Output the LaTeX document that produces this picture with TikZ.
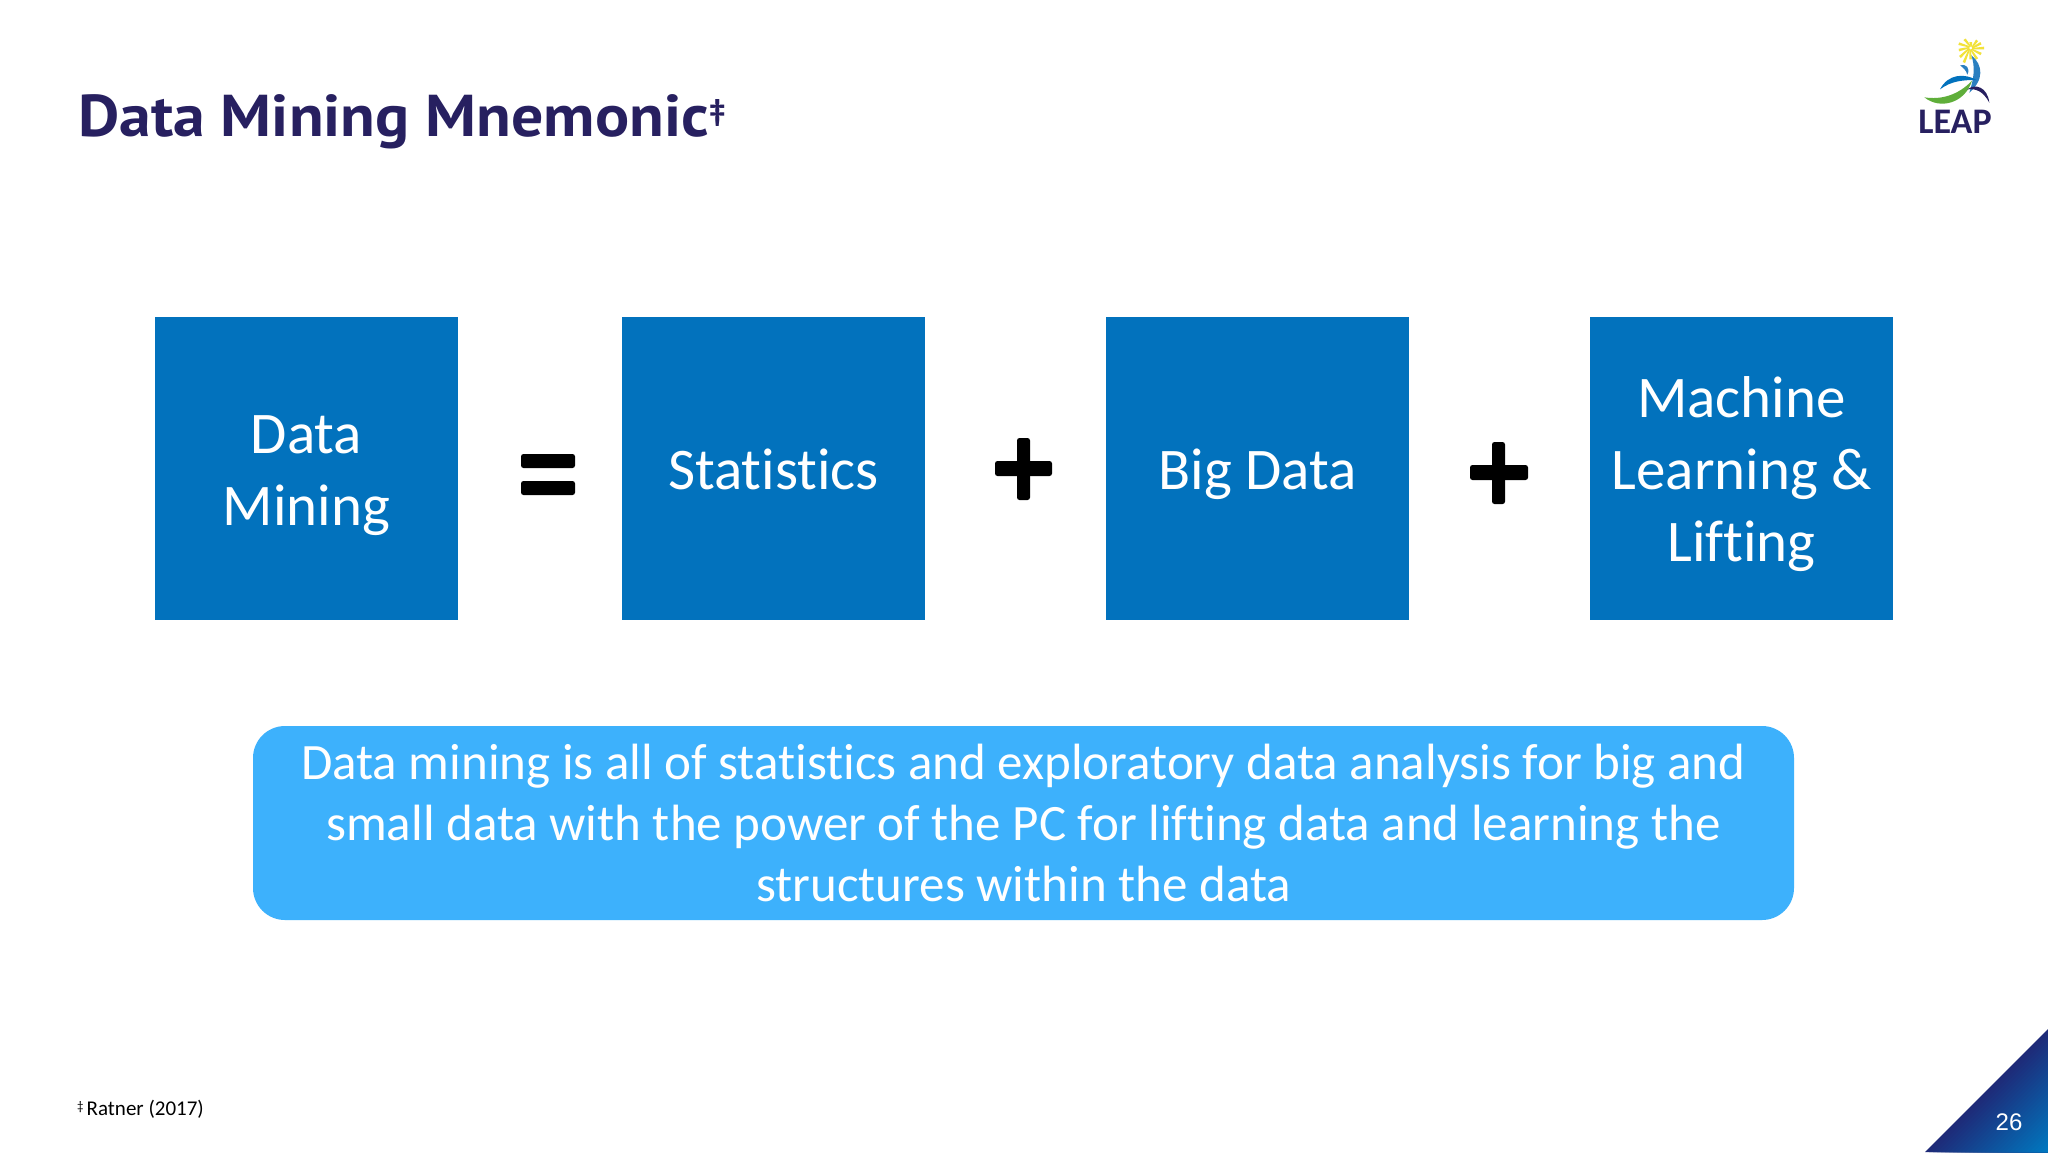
\documentclass[tikz,border=0pt]{standalone}
\usepackage{fontspec}
\setmainfont[RawFeature={-liga;-clig;-dlig}]{Carlito}
\newfontfamily\titlefont[FakeStretch=1.08]{PT Sans}
\newfontfamily\numfont{Liberation Sans}
\definecolor{boxblue}{HTML}{0272BD}
\definecolor{panelblue}{HTML}{3DB1FC}
\definecolor{titlenavy}{HTML}{272060}
\definecolor{cornernavy}{HTML}{1E2A78}
\definecolor{cornerblue}{HTML}{0078C0}
\definecolor{logoblue}{HTML}{2A7FC0}
\definecolor{logogreen}{HTML}{5FAE3A}
\definecolor{logoyellow}{HTML}{F2E23A}
\newcommand{\tstrut}{\rule{0pt}{57.5pt}}
\newcommand{\bstrut}{\rule[-15pt]{0pt}{15pt}}
\tikzset{
  bluebox/.style={fill=boxblue,draw=none,minimum width=303pt,minimum height=303pt,inner sep=0pt,anchor=center,text=white,align=center,font=\fontsize{59}{72}\selectfont},
  symbolbar/.style={fill=black,draw=none,rounded corners=2.5pt},
  panel/.style={fill=panelblue,draw=none,rounded corners=32pt,minimum width=1541pt,minimum height=194pt,inner sep=0pt,text=white,align=center,font=\fontsize{51}{61.4}\selectfont}
}
\begin{document}
\begin{tikzpicture}[x=1pt,y=-1pt]
\useasboundingbox (0,0) rectangle (2048,1152);
\fill[white] (0,0) rectangle (2048,1152);
% title
\node[anchor=base west,inner sep=0pt,text=titlenavy,font=\titlefont\bfseries\fontsize{59}{70}\selectfont] (title) at (78,136) {Data Mining Mnemonic\raisebox{16pt}{\fontsize{30}{30}\selectfont ‡}};
% boxes
\node[bluebox] (dm) at (306.5,468.5) {\tstrut Data\\Mining\bstrut};
\node[bluebox] (st) at (773.5,468.5) {\tstrut Statistics\bstrut};
\node[bluebox] (bd) at (1257.5,468.5) {\tstrut Big Data\bstrut};
\node[bluebox] (ml) at (1741.5,468.5) {\tstrut Machine\\Learning \&\\Lifting\bstrut};
% symbols
\fill[symbolbar] (521,454) rectangle (575,468);
\fill[symbolbar] (521,481) rectangle (575,495);
\fill[symbolbar] (995,461) rectangle (1052,476);
\fill[symbolbar] (1017,438) rectangle (1030,500);
\fill[symbolbar] (1470,465) rectangle (1528,480);
\fill[symbolbar] (1492,442) rectangle (1505,504);
% panel
\node[panel] (note) at (1023.5,823) {Data mining is all of statistics and exploratory data analysis for big and\\small data with the power of the PC for lifting data and learning the\\structures within the data};
% footnote
\node[anchor=base west,inner sep=0pt,font=\fontsize{21}{25}\selectfont] (foot) at (77,1115) {\raisebox{5pt}{\fontsize{13}{13}\selectfont ‡}\kern3pt Ratner (2017)};
% corner triangle: bands parallel to the slanted edge
\foreach \k in {0,...,30}{
  \pgfmathsetmacro{\dd}{\k*4}
  \pgfmathsetmacro{\pc}{100-\k*100/30}
  \fill[cornernavy!\pc!cornerblue] ({1925+\dd},1152) -- (2048,{1029+\dd}) -- (2048,1152) -- cycle;
}
\node[text=white,inner sep=0pt,font=\numfont\fontsize{24}{26}\selectfont] (page) at (2009,1122) {26};
% logo
\begin{scope}[shift={(1880,20)},x=0.3333pt,y=-0.3333pt]
  \foreach \a/\l in {0/36,30/32,60/34,90/30,115/44,140/38,170/32,200/34,235/28,270/14,310/26,335/30}{
    \fill[logoyellow] (272,84) ++(\a:4) -- ++(\a+90:4) -- ++(\a:\l) -- ++(\a-90:8) -- cycle;
  }
  % stalk
  \fill[logoblue] (274,106) .. controls (310,135) and (312,180) .. (268,218) .. controls (282,175) and (286,140) .. (274,106) -- cycle;
  % head
  \fill[logoblue] (240,136) .. controls (258,130) and (272,145) .. (262,164) .. controls (258,150) and (250,144) .. (240,136) -- cycle;
  % arm
  \fill[boxblue] (180,208) .. controls (205,160) and (255,160) .. (290,180) .. controls (250,180) and (215,182) .. (180,208) -- cycle;
  % crescent
  \fill[logogreen] (133,232) .. controls (185,240) and (235,225) .. (276,182) .. controls (255,250) and (180,270) .. (133,232) -- cycle;
  % leg
  \fill[titlenavy] (262,208) .. controls (285,190) and (322,200) .. (328,248) .. controls (310,215) and (290,205) .. (262,208) -- cycle;
\end{scope}
\node[anchor=base,inner sep=0pt,text=titlenavy,font=\bfseries\fontsize{36}{36}\selectfont] (leap) at (1955,133) {LEAP};
\end{tikzpicture}
\end{document}
